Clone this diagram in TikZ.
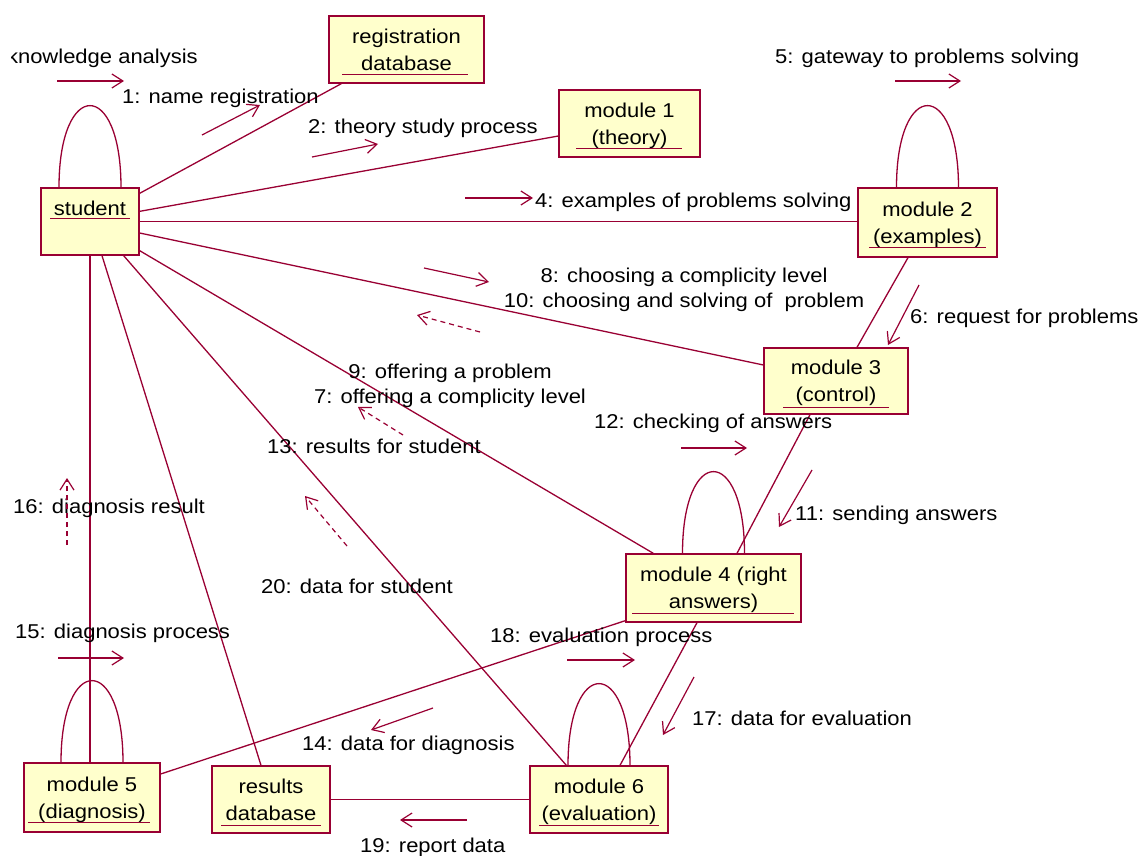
\documentclass[tikz,border=0pt]{standalone}
\usepackage{fontspec}
\setmainfont{Liberation Sans}[FakeStretch=1.1]
\usetikzlibrary{arrows.meta}
\definecolor{umlred}{RGB}{153,0,51}
\definecolor{umlfill}{RGB}{255,255,204}

\begin{document}
\begin{tikzpicture}[x=1pt,y=-1pt,
    obj/.style={draw=umlred,fill=umlfill,line width=1.3pt,inner sep=0pt,align=center,text depth=0pt,font=\fontsize{20}{27}\selectfont},
    lbl/.style={inner sep=0pt,anchor=west,font=\fontsize{20}{25}\selectfont},
    link/.style={draw=umlred,line width=1.3pt},
    msg/.style={draw=umlred,line width=1.2pt,-{Straight Barb[length=11pt,width=14pt]}},
    reply/.style={msg,dashed,dash pattern=on 5pt off 4pt}]
    \useasboundingbox (0,0) rectangle (1141,856);

    % objects
    \node[obj,minimum width=98,minimum height=67] (student) at (90,221.5) {student\\\mbox{}};
    \node[obj,minimum width=155,minimum height=67] (regdb) at (406.5,49.5) {registration\\database};
    \node[obj,minimum width=141,minimum height=67] (mone) at (629.5,123.5) {module 1\\(theory)};
    \node[obj,minimum width=139,minimum height=69] (mtwo) at (927.5,222.5) {module 2\\(examples)};
    \node[obj,minimum width=144,minimum height=66] (mthree) at (836,381) {module 3\\(control)};
    \node[obj,minimum width=175,minimum height=68] (mfour) at (713.5,588) {module 4 (right\\answers)};
    \node[obj,minimum width=136,minimum height=69] (mfive) at (92,797.5) {module 5\\(diagnosis)};
    \node[obj,minimum width=118,minimum height=67] (resdb) at (271,799.5) {results\\database};
    \node[obj,minimum width=138,minimum height=67] (msix) at (599,799.5) {module 6\\(evaluation)};

    % underlines
    \foreach \n/\a/\b/\h in {student/10/10/37, regdb/14/17/9, mone/18/19/9, mtwo/12/12/10, mthree/20/20/7,
        mfour/7/8/9, mfive/5/11/10, resdb/10/10/8, msix/10/10/8}
        \draw[umlred,line width=1.2pt] ([shift={(\a,-\h)}]\n.south west) -- ([shift={(-\b,-\h)}]\n.south east);

    % self links
    \foreach \n in {student,mtwo,mfour,mfive,msix}
        \draw[link] ([xshift=-31]\n.north) .. controls +(0,-109) and +(0,-109) .. ([xshift=31]\n.north);

    % links
    \draw[link] ([shift={(0,6)}]student.north east) -- ([shift={(13,0)}]regdb.south west);
    \draw[link] ([shift={(0,24)}]student.north east) -- ([shift={(0,12.5)}]mone.west);
    \draw[link] (student.east) -- (student.east -| mtwo.west);
    \draw[link] ([shift={(0,11.5)}]student.east) -- ([shift={(0,-16)}]mthree.west);
    \draw[link] ([shift={(0,-5)}]student.south east) -- ([shift={(28,0)}]mfour.north west);
    \draw[link] ([shift={(-16,0)}]student.south east) -- ([shift={(37,0)}]msix.north west);
    \draw[link] ([shift={(12,0)}]student.south) -- ([shift={(-10,0)}]resdb.north);
    \draw[link] (student.south) -- (student.south |- mfive.north);
    \draw[link] ([shift={(-19.5,0)}]mtwo.south) -- ([shift={(21,0)}]mthree.north);
    \draw[link] ([shift={(-26,0)}]mthree.south) -- ([shift={(23.5,0)}]mfour.north);
    \draw[link] ([shift={(-16.5,0)}]mfour.south) -- ([shift={(21,0)}]msix.north);
    \draw[link] ([shift={(0,-23.5)}]mfive.east) -- ([shift={(0,-2)}]mfour.south west);
    \draw[link] (resdb.east) -- (msix.west);

    % messages
    \begin{scope}
        \clip (11,30) rectangle (220,90);
        \node[lbl,anchor=east] (lka) at (198,58) {knowledge analysis};
    \end{scope}
    \node[lbl] (lone) at (122,98) {1: name registration};
    \node[lbl] (ltwo) at (308,128) {2: theory study process};
    \node[lbl] (lfour) at (535,202) {4: examples of problems solving};
    \node[lbl] (lfive) at (775,58) {5: gateway to problems solving};
    \node[lbl] (lsix) at (910,318) {6: request for problems};
    \node[lbl,anchor=center,align=center] (leight) at (684,290) {8: choosing a complicity level\\10: choosing and solving of\ \ problem};
    \node[lbl,anchor=center,align=center] (lnine) at (450,386) {9: offering a problem\\7: offering a complicity level};
    \node[lbl] (leleven) at (795,515) {11: sending answers};
    \node[lbl] (ltwelve) at (594,423) {12: checking of answers};
    \node[lbl] (lthirteen) at (267,446) {13: results for student};
    \node[lbl] (lfourteen) at (302,745) {14: data for diagnosis};
    \node[lbl] (lfifteen) at (15,633) {15: diagnosis process};
    \node[lbl] (lsixteen) at (13,508) {16: diagnosis result};
    \node[lbl] (lseventeen) at (692,718) {17: data for evaluation};
    \node[lbl] (leighteen) at (490,637) {18: evaluation process};
    \node[lbl] (lnineteen) at (360,847) {19: report data};
    \node[lbl] (ltwenty) at (261,586) {20: data for student};

    \foreach \xa/\ya/\xb/\yb in {57/81/124/81, 202/135/260/105, 312/157/378/144, 465/198/533/198,
        895/81/961/81, 919/285/888/345, 424/268/489/282, 812/470/779/527, 681/448/747/448,
        433/708/371/730, 58/658/124/658, 694/677/663/735, 567/660/635/660, 467/820/400/820}
        \draw[msg] (\xa,\ya) -- (\xb,\yb);
    \foreach \xa/\ya/\xb/\yb in {480/332/417/315, 403/435/358/407, 347/546/305/496, 67/545/67/478}
        \draw[reply] (\xa,\ya) -- (\xb,\yb);
\end{tikzpicture}
\end{document}
